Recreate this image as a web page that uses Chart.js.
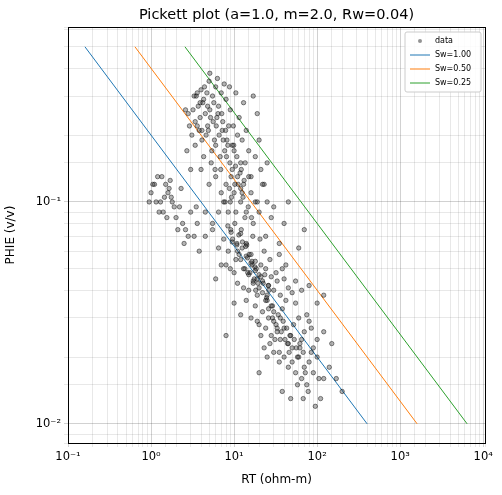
<!DOCTYPE html>
<html>
<head>
<meta charset="utf-8">
<script src="https://cdn.jsdelivr.net/npm/chart.js"></script>
<style>
  html, body { margin: 0; padding: 0; background: #fff; }
  #wrap { width: 502px; height: 495px; }
</style>
</head>
<body>
<div id="wrap"><canvas id="pickett" width="502" height="495"></canvas></div>
<script>
// --- Data ---
const rtData = [
  // upper cluster (PHIE 0.15 - 0.38)
  3.5, 4.0, 4.2, 5.0, 5.5, 6.0, 6.5, 7.0, 8.0, 9.0, 4.5, 5.2, 6.1, 7.3, 3.8, 4.6, 5.8, 7.9, 9.5, 11,
  3.2, 3.6, 4.1, 5.4, 6.8, 8.4, 10, 12, 2.8, 3.1, 6.3, 7.6, 8.8, 10.5, 13, 4.8, 5.1, 3.3, 3.9, 4.4,
  5.6, 6.6, 7.1, 9.8, 12.5, 15, 18, 21, 8.1, 6.9, 5.3, 4.3, 3.4, 2.9, 2.6, 2.7, 3.0, 11.5, 14, 16,
  9.2, 10.2, 4.9, 5.9, 6.2, 7.4, 8.6, 20, 25, 17, 19, 23,
  3.7, 4.3, 4.7, 5.1, 3.9, 4.1, 3.4, 5.7, 6.4, 7.2, 8.2, 9.9, 10.8, 12.2, 13.6, 3.6, 4.8, 6.0, 7.7, 8.9,
  // middle (PHIE 0.08 - 0.15)
  4, 5, 6, 7, 8, 9, 10, 11, 12, 13, 14, 16, 18, 20, 22, 25, 28, 9.5, 10.5, 12.5,
  7.5, 8.5, 6.5, 15, 17, 19, 24, 30, 35, 40, 11.2, 13.5, 5.5, 4.5, 3.5, 45, 60, 70, 9.1, 10.8,
  12, 12.8, 13.2, 11.8, 10.4, 9.3, 14.8, 16.2, 8.8, 7.8,
  // left branch (RT 1 - 3)
  1.0, 1.1, 1.2, 1.3, 1.4, 1.5, 1.6, 1.7, 1.8, 2.0, 2.2, 2.4, 2.6, 2.8, 3.0, 1.25, 1.45, 1.65, 1.9, 2.1,
  1.15, 1.35, 1.55, 1.75, 2.3, 2.5, 0.95, 1.05, 3.3, 3.6,
  // lower-middle (PHIE 0.04 - 0.08)
  4.5, 5.5, 6.5, 7.5, 8.5, 9.5, 10.5, 11.5, 12.5, 13.5, 14.5, 15.5, 16.5, 17.5, 18.5, 20, 22, 24, 26, 28,
  30, 33, 36, 40, 45, 50, 3.8, 8, 10, 12, 14, 16, 18, 21, 23, 27, 32, 38, 55, 65,
  13, 15, 17, 19, 11, 9, 7, 6, 25, 29, 35, 42, 80, 100, 120, 16.8, 14.2, 12.2, 10.2, 20.5,
  11, 12, 13, 14, 15, 16, 17, 18, 19, 20, 21, 22, 13.8, 15.2, 16.4, 17.8, 19.4, 12.6, 11.4, 10.8,
  9.6, 14.6, 18.2, 22.4, 24.6, 26.2, 8.4, 9.2, 23.4, 25.8,
  // lower (PHIE 0.022 - 0.04)
  10, 12, 14, 16, 18, 20, 22, 24, 26, 28, 30, 33, 36, 40, 44, 48, 52, 56, 60, 65,
  70, 80, 90, 100, 120, 150, 25, 27, 31, 35, 38, 42, 46, 19, 21, 23, 8, 55, 75, 85,
  26, 29, 32, 34, 37, 39, 41, 43, 45, 47, 24, 28, 30, 33, 36, 50, 53, 58, 62, 68,
  // bottom (PHIE 0.012 - 0.022)
  30, 35, 40, 45, 50, 55, 60, 65, 70, 75, 80, 90, 100, 110, 120, 140, 170, 200, 38, 48,
  58, 68, 78, 95, 105, 62, 72, 85, 20, 25
];
const phieData = [
  0.30, 0.32, 0.28, 0.35, 0.30, 0.33, 0.27, 0.31, 0.29, 0.26, 0.25, 0.24, 0.22, 0.23, 0.21, 0.20, 0.19, 0.21, 0.18, 0.20,
  0.26, 0.22, 0.19, 0.17, 0.16, 0.18, 0.17, 0.15, 0.25, 0.20, 0.36, 0.34, 0.33, 0.31, 0.28, 0.27, 0.38, 0.30, 0.28, 0.33,
  0.23, 0.20, 0.25, 0.22, 0.19, 0.17, 0.16, 0.14, 0.16, 0.14, 0.15, 0.16, 0.18, 0.22, 0.26, 0.17, 0.14, 0.24, 0.21, 0.13,
  0.13, 0.12, 0.21, 0.14, 0.24, 0.19, 0.22, 0.19, 0.15, 0.30, 0.25, 0.12,
  0.27, 0.29, 0.31, 0.26, 0.24, 0.21, 0.23, 0.28, 0.25, 0.21, 0.19, 0.18, 0.16, 0.14, 0.15, 0.31, 0.22, 0.18, 0.17, 0.15,
  0.14, 0.12, 0.13, 0.11, 0.12, 0.10, 0.11, 0.13, 0.10, 0.12, 0.09, 0.11, 0.10, 0.09, 0.12, 0.10, 0.085, 0.14, 0.09, 0.11,
  0.10, 0.09, 0.09, 0.13, 0.08, 0.10, 0.07, 0.095, 0.065, 0.08, 0.12, 0.085, 0.08, 0.09, 0.095, 0.10, 0.062, 0.075, 0.075, 0.065,
  0.115, 0.105, 0.125, 0.135, 0.145, 0.105, 0.095, 0.085, 0.115, 0.10,
  0.11, 0.12, 0.13, 0.10, 0.09, 0.12, 0.11, 0.125, 0.10, 0.085, 0.095, 0.08, 0.075, 0.07, 0.09, 0.09, 0.105, 0.115, 0.095, 0.075,
  0.10, 0.13, 0.085, 0.105, 0.115, 0.065, 0.10, 0.12, 0.07, 0.08,
  0.070, 0.075, 0.062, 0.068, 0.060, 0.066, 0.055, 0.058, 0.062, 0.050, 0.056, 0.048, 0.052, 0.045, 0.050, 0.047, 0.044, 0.050, 0.042, 0.046,
  0.040, 0.044, 0.038, 0.045, 0.041, 0.039, 0.060, 0.052, 0.048, 0.072, 0.065, 0.058, 0.054, 0.052, 0.060, 0.055, 0.048, 0.050, 0.044, 0.040,
  0.041, 0.040, 0.043, 0.038, 0.043, 0.050, 0.052, 0.045, 0.036, 0.034, 0.058, 0.052, 0.042, 0.035, 0.038, 0.070, 0.064, 0.075, 0.080, 0.068,
  0.060, 0.055, 0.050, 0.057, 0.047, 0.053, 0.044, 0.049, 0.045, 0.041, 0.046, 0.039, 0.063, 0.058, 0.054, 0.051, 0.043, 0.066, 0.071, 0.064,
  0.068, 0.048, 0.040, 0.043, 0.037, 0.040, 0.078, 0.073, 0.047, 0.042,
  0.035, 0.031, 0.036, 0.030, 0.034, 0.028, 0.032, 0.027, 0.030, 0.025, 0.029, 0.026, 0.024, 0.027, 0.023, 0.025, 0.028, 0.022, 0.030, 0.024,
  0.026, 0.029, 0.022, 0.024, 0.026, 0.023, 0.038, 0.023, 0.024, 0.021, 0.033, 0.036, 0.021, 0.029, 0.025, 0.022, 0.025, 0.035, 0.031, 0.027,
  0.033, 0.030, 0.028, 0.031, 0.026, 0.029, 0.024, 0.027, 0.023, 0.025, 0.036, 0.034, 0.032, 0.027, 0.030, 0.022, 0.024, 0.020, 0.023, 0.021,
  0.021, 0.019, 0.020, 0.018, 0.019, 0.017, 0.020, 0.016, 0.018, 0.015, 0.019, 0.017, 0.020, 0.013, 0.016, 0.018, 0.016, 0.014, 0.014, 0.013,
  0.015, 0.013, 0.014, 0.012, 0.016, 0.022, 0.017, 0.021, 0.017, 0.020
];
// Sw lines: endpoints (PHIE 0.5 -> 0.01)
const lineLabels = ['Sw=1.00', 'Sw=0.50', 'Sw=0.25'];
const lineColors = ['#1f77b4', '#ff7f0e', '#2ca02c'];
const linePhie = [0.5, 0.01];
const lineRt = [[0.16, 400], [0.64, 1600], [2.56, 6400]];
const xTickLabels = {'-1': '10⁻¹', '0': '10⁰', '1': '10¹', '2': '10²', '3': '10³', '4': '10⁴'};
const yTickLabels = {'-1': '10⁻¹', '-2': '10⁻²'};

const FONT = 'DejaVu Sans';
Chart.defaults.font.family = FONT;
Chart.defaults.color = '#000';

function powLabel(v, table) {
  const e = Math.log10(v);
  if (Math.abs(e - Math.round(e)) < 1e-6) return table[String(Math.round(e))] || '';
  return '';
}
function gridColor(ctx) {
  const v = ctx.tick && ctx.tick.value;
  if (!v) return 'rgba(0,0,0,0.1)';
  const e = Math.log10(v);
  return Math.abs(e - Math.round(e)) < 1e-6 ? 'rgba(0,0,0,0.18)' : 'rgba(0,0,0,0.09)';
}

const datasets = [{
  label: 'data',
  data: rtData.map((x, i) => ({x: x, y: phieData[i]})),
  showLine: false,
  pointRadius: 2.2,
  backgroundColor: 'rgba(40,40,40,0.35)',
  borderColor: 'rgba(0,0,0,0.45)',
  borderWidth: 1
}];
lineLabels.forEach((lab, i) => {
  datasets.push({
    label: lab,
    data: lineRt[i].map((x, j) => ({x: x, y: linePhie[j]})),
    showLine: true,
    borderColor: lineColors[i],
    backgroundColor: lineColors[i],
    borderWidth: 1,
    pointRadius: 0
  });
});

const decor = {
  id: 'decor',
  afterDraw(chart) {
    const c = chart.ctx, a = chart.chartArea;
    c.save();
    c.strokeStyle = '#000'; c.lineWidth = 1;
    c.strokeRect(a.left + 0.5, a.top + 0.5, a.right - a.left, a.bottom - a.top);
    c.fillStyle = '#000';
    c.font = '14.5px ' + FONT;
    c.textAlign = 'center'; c.textBaseline = 'middle';
    c.fillText('Pickett plot (a=1.0, m=2.0, Rw=0.04)', (a.left + a.right) / 2, 15);
    // legend box
    const bx = a.right - 80, by = a.top + 5, bw = 76, bh = 60;
    c.fillStyle = 'rgba(255,255,255,0.85)';
    c.strokeStyle = '#ccc';
    c.beginPath(); c.roundRect(bx, by, bw, bh, 2); c.fill(); c.stroke();
    c.font = '8px ' + FONT; c.textAlign = 'left'; c.fillStyle = '#000';
    chart.data.datasets.forEach((ds, i) => {
      const yy = by + 9 + i * 14;
      if (i === 0) {
        c.fillStyle = 'rgba(40,40,40,0.5)';
        c.beginPath(); c.arc(bx + 15, yy, 2, 0, Math.PI * 2); c.fill();
      } else {
        c.strokeStyle = ds.borderColor; c.lineWidth = 1;
        c.beginPath(); c.moveTo(bx + 5, yy); c.lineTo(bx + 25, yy); c.stroke();
      }
      c.fillStyle = '#000';
      c.fillText(ds.label, bx + 30, yy);
    });
    c.restore();
  }
};

new Chart(document.getElementById('pickett'), {
  type: 'scatter',
  data: { datasets: datasets },
  options: {
    responsive: false,
    animation: false,
    layout: { padding: { top: 27, right: 17, left: 0, bottom: 0 } },
    plugins: { legend: { display: false }, title: { display: false }, tooltip: { enabled: false } },
    scales: {
      x: {
        type: 'logarithmic', min: 0.1, max: 10500,
        title: { display: true, text: 'RT (ohm-m)', font: { size: 12 }, padding: { top: 0, bottom: 8 } },
        grid: { color: gridColor, drawTicks: true, tickLength: 4 },
        border: { display: false },
        ticks: { autoSkip: false, maxRotation: 0, font: { size: 11.5 }, callback: v => powLabel(v, xTickLabels) },
        afterFit(s) { s.height = 52; }
      },
      y: {
        type: 'logarithmic', min: 0.0082, max: 0.614,
        title: { display: true, text: 'PHIE (v/v)', font: { size: 12 } },
        grid: { color: gridColor, tickLength: 4 },
        border: { display: false },
        ticks: { autoSkip: false, font: { size: 11.5 }, callback: v => powLabel(v, yTickLabels) },
        afterFit(s) { s.width = 68; }
      }
    }
  },
  plugins: [decor]
});
</script>
</body>
</html>
